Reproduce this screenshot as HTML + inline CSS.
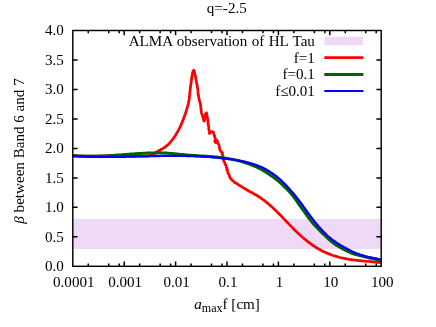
<!DOCTYPE html>
<html><head><meta charset="utf-8"><style>
html,body{margin:0;padding:0;background:#fff;}
svg{display:block;}
text{font-family:"Liberation Serif",serif;font-size:15.1px;fill:#000;}
</style></head><body>
<svg style="will-change:transform" width="436" height="327" viewBox="0 0 436 327">
<rect width="436" height="327" fill="#fff"/>
<rect x="72.8" y="218.9" width="308.4" height="30.1" fill="#eed9f7"/>
<rect x="324.3" y="36.8" width="38.8" height="8.4" fill="#eed9f7"/>
<g fill="none" stroke-linejoin="round" stroke-linecap="butt">
<path d="M72.8,156.1 L73.9,156.1 L75.0,156.1 L76.1,156.1 L77.2,156.1 L78.3,156.1 L79.5,156.1 L80.6,156.1 L81.7,156.1 L82.8,156.1 L83.9,156.1 L85.0,156.1 L86.1,156.1 L87.2,156.1 L88.3,156.1 L89.4,156.1 L90.5,156.1 L91.7,156.1 L92.8,156.1 L93.9,156.1 L95.0,156.1 L96.1,156.1 L97.2,156.1 L98.3,156.1 L99.4,156.1 L100.5,156.1 L101.6,156.1 L102.7,156.1 L103.9,156.1 L105.0,156.1 L106.1,156.1 L107.2,156.1 L108.3,156.1 L109.4,156.1 L110.5,156.1 L111.6,156.1 L112.7,156.1 L113.8,156.1 L114.9,156.1 L116.1,156.1 L117.2,156.1 L118.3,156.1 L119.4,156.1 L120.5,156.1 L121.6,156.1 L122.7,156.1 L123.8,156.1 L124.9,156.1 L126.0,156.1 L127.1,156.1 L128.3,156.1 L129.4,156.1 L130.5,156.1 L131.6,156.1 L132.7,156.1 L133.8,156.1 L134.9,156.1 L136.0,156.1 L137.1,156.1 L138.2,156.1 L139.3,156.1 L140.5,156.1 L141.6,156.1 L142.7,156.1 L143.8,156.1 L144.9,156.1 L146.0,156.1 L147.3,155.9 L148.7,155.8 L150.0,155.6 L151.5,155.1 L153.0,154.7 L154.0,154.1 L155.0,153.5 L156.2,152.5 L157.4,151.5 L159.2,150.5 L160.6,149.8 L162.0,149.0 L163.0,148.4 L164.1,147.7 L165.1,147.1 L165.9,146.4 L166.8,145.6 L167.7,144.9 L168.5,144.2 L169.3,143.3 L170.2,142.3 L171.0,141.4 L171.8,140.5 L172.5,139.6 L173.2,138.6 L173.8,137.7 L174.5,136.7 L175.2,135.8 L175.9,134.7 L176.5,133.6 L177.2,132.5 L177.8,131.4 L178.5,130.3 L179.0,129.2 L179.6,128.0 L180.1,126.9 L180.7,125.7 L181.2,124.6 L181.7,123.4 L182.2,122.2 L182.6,120.9 L183.1,119.7 L183.6,118.5 L184.0,117.3 L184.5,116.1 L184.9,114.9 L185.4,113.7 L185.8,112.5 L186.1,111.4 L186.4,110.3 L186.8,109.2 L187.1,108.2 L187.4,107.1 L187.7,106.0 L188.0,104.8 L188.3,103.6 L188.5,102.4 L188.8,101.2 L189.1,100.0 L189.2,98.9 L189.3,97.7 L189.5,96.6 L189.6,95.5 L189.7,94.3 L189.8,93.2 L189.9,92.0 L190.0,90.9 L190.2,89.8 L190.3,88.6 L190.4,87.5 L190.6,86.3 L190.7,85.2 L190.9,84.0 L191.0,82.9 L191.2,81.8 L191.4,80.6 L191.5,79.5 L191.7,78.3 L191.8,77.2 L192.0,76.0 L192.2,74.8 L192.5,73.6 L192.8,72.4 L193.0,71.2 L193.7,70.2 L194.4,71.2 L194.6,72.4 L194.8,73.5 L195.1,74.7 L195.3,75.8 L195.5,77.0 L195.7,78.2 L195.9,79.3 L196.2,80.5 L196.4,81.7 L196.6,82.8 L196.8,84.0 L197.1,85.2 L197.3,86.3 L197.5,87.5 L197.7,88.6 L197.8,89.8 L198.0,90.9 L198.0,92.1 L198.0,93.2 L198.3,94.3 L198.4,95.5 L198.6,96.6 L198.8,97.7 L199.2,98.8 L199.2,100.0 L199.6,101.2 L200.1,102.4 L200.4,103.7 L200.6,105.0 L200.8,106.2 L200.8,107.4 L200.8,108.6 L201.2,109.8 L201.2,111.0 L201.4,112.3 L201.7,113.6 L202.3,114.8 L202.7,116.0 L202.9,117.3 L203.3,118.6 L203.7,119.9 L204.0,121.2 L204.5,119.9 L205.0,118.5 L205.0,117.4 L205.3,116.3 L205.6,115.2 L205.5,113.9 L206.5,112.8 L206.7,114.4 L207.2,116.0 L207.3,117.2 L207.6,118.5 L207.9,119.7 L207.8,121.0 L208.1,122.2 L208.1,123.4 L208.1,124.7 L208.6,125.9 L208.8,127.2 L208.7,128.5 L208.9,129.8 L209.4,131.0 L209.5,132.3 L209.4,133.5 L210.3,132.7 L210.8,131.8 L212.2,131.6 L213.4,132.0 L213.8,133.6 L214.2,135.0 L214.7,136.1 L214.6,137.3 L215.3,138.3 L215.5,139.4 L214.7,141.1 L215.6,142.7 L216.3,141.3 L216.6,140.1 L217.5,141.1 L217.4,142.3 L217.8,143.3 L218.8,144.2 L219.1,145.6 L219.3,147.1 L219.7,148.4 L219.8,149.8 L220.5,150.8 L221.3,151.9 L222.6,152.9 L222.0,154.2 L222.8,155.3 L222.9,156.5 L223.0,157.7 L222.9,158.9 L223.8,159.9 L223.7,161.2 L224.5,162.2 L224.9,163.3 L225.3,164.5 L226.2,165.4 L226.1,166.6 L226.7,167.6 L227.2,168.6 L226.7,169.9 L227.7,170.7 L227.7,171.9 L227.9,173.0 L228.5,174.0 L229.2,174.9 L229.4,176.0 L229.9,177.2 L230.3,178.4 L231.5,179.1 L232.0,180.2 L233.0,180.7 L233.8,181.5 L234.7,182.6 L236.0,183.0 L237.2,183.7 L238.1,184.5 L239.0,185.3 L240.2,185.7 L241.2,186.4 L242.2,187.0 L243.2,187.6 L244.1,188.3 L245.2,188.8 L246.2,189.4 L247.2,189.9 L248.1,190.7 L249.2,191.2 L250.1,191.8 L251.1,192.4 L252.2,192.7 L253.2,193.4 L254.1,194.0 L255.2,194.6 L256.2,195.0 L257.2,195.7 L258.2,196.3 L259.2,196.9 L260.2,197.6 L261.2,198.3 L262.2,199.0 L263.2,199.8 L264.2,200.5 L265.2,201.3 L266.2,202.1 L267.2,202.9 L268.2,203.7 L269.2,204.5 L270.2,205.4 L271.2,206.3 L272.2,207.2 L273.2,208.1 L274.2,209.0 L275.2,210.0 L276.2,211.0 L277.2,212.0 L278.2,213.0 L279.2,214.0 L280.2,215.0 L281.2,216.0 L282.2,217.0 L283.2,218.1 L284.2,219.1 L285.2,220.2 L286.2,221.2 L287.2,222.3 L288.2,223.3 L289.2,224.4 L290.2,225.4 L291.2,226.4 L292.2,227.4 L293.2,228.5 L294.2,229.5 L295.2,230.5 L296.2,231.4 L297.2,232.4 L298.2,233.3 L299.2,234.3 L300.2,235.2 L301.2,236.1 L302.2,237.0 L303.2,237.8 L304.2,238.7 L305.2,239.5 L306.2,240.3 L307.2,241.1 L308.2,241.9 L309.2,242.6 L310.2,243.4 L311.2,244.1 L312.2,244.8 L313.2,245.5 L314.2,246.2 L315.2,246.9 L316.2,247.5 L317.2,248.1 L318.2,248.7 L319.2,249.3 L320.2,249.8 L321.2,250.4 L322.2,250.9 L323.2,251.4 L324.2,251.9 L325.2,252.3 L326.2,252.8 L327.2,253.2 L328.2,253.6 L329.2,254.0 L330.2,254.4 L331.2,254.8 L332.2,255.2 L333.2,255.5 L334.2,255.8 L335.2,256.1 L336.2,256.4 L337.2,256.7 L338.2,257.0 L339.2,257.3 L340.2,257.5 L341.2,257.8 L342.2,258.0 L343.2,258.2 L344.2,258.4 L345.2,258.6 L346.2,258.8 L347.2,259.0 L348.2,259.1 L349.2,259.3 L350.2,259.5 L351.2,259.6 L352.2,259.8 L353.2,259.9 L354.2,260.0 L355.2,260.1 L356.2,260.3 L357.2,260.4 L358.2,260.5 L359.2,260.6 L360.2,260.7 L361.2,260.8 L362.2,260.9 L363.2,261.0 L364.2,261.1 L365.2,261.2 L366.2,261.3 L367.2,261.3 L368.2,261.4 L369.2,261.5 L370.2,261.6 L371.2,261.7 L372.2,261.8 L373.2,261.9 L374.2,262.0 L375.2,262.1 L376.2,262.2 L377.2,262.3 L378.2,262.4 L379.2,262.5 L380.2,262.6 L381.0,262.7" stroke="#ff0000" stroke-width="2.75"/>
<path d="M72.8,155.4 L73.8,155.6 L74.8,155.7 L75.8,155.7 L76.8,155.8 L77.8,155.9 L78.8,156.0 L79.8,156.0 L80.8,156.1 L81.8,156.1 L82.8,156.2 L83.8,156.2 L84.8,156.3 L85.8,156.3 L86.8,156.3 L87.8,156.3 L88.8,156.3 L89.8,156.3 L90.8,156.3 L91.8,156.3 L92.8,156.3 L93.8,156.3 L94.8,156.3 L95.8,156.2 L96.8,156.2 L97.8,156.2 L98.8,156.1 L99.8,156.1 L100.8,156.1 L101.8,156.0 L102.8,156.0 L103.8,155.9 L104.8,155.9 L105.8,155.8 L106.8,155.8 L107.8,155.7 L108.8,155.7 L109.8,155.6 L110.8,155.5 L111.8,155.5 L112.8,155.4 L113.8,155.4 L114.8,155.3 L115.8,155.2 L116.8,155.1 L117.8,155.1 L118.8,155.0 L119.8,154.9 L120.8,154.9 L121.8,154.8 L122.8,154.7 L123.8,154.6 L124.8,154.6 L125.8,154.5 L126.8,154.4 L127.8,154.3 L128.8,154.2 L129.8,154.2 L130.8,154.1 L131.8,154.0 L132.8,153.9 L133.8,153.9 L134.8,153.8 L135.8,153.7 L136.8,153.7 L137.8,153.6 L138.8,153.5 L139.8,153.5 L140.8,153.4 L141.8,153.4 L142.8,153.3 L143.8,153.3 L144.8,153.2 L145.8,153.2 L146.8,153.1 L147.8,153.1 L148.8,153.1 L149.8,153.0 L150.8,153.0 L151.8,152.9 L152.8,152.9 L153.8,152.9 L154.8,152.8 L155.8,152.8 L156.8,152.8 L157.8,152.8 L158.8,152.8 L159.8,152.8 L160.8,152.8 L161.8,152.9 L162.8,152.9 L163.8,153.0 L164.8,153.0 L165.8,153.1 L166.8,153.1 L167.8,153.2 L168.8,153.3 L169.8,153.4 L170.8,153.4 L171.8,153.5 L172.8,153.6 L173.8,153.7 L174.8,153.8 L175.8,153.9 L176.8,154.0 L177.8,154.1 L178.8,154.2 L179.8,154.3 L180.8,154.4 L181.8,154.5 L182.8,154.6 L183.8,154.7 L184.8,154.8 L185.8,154.9 L186.8,155.0 L187.8,155.1 L188.8,155.2 L189.8,155.2 L190.8,155.3 L191.8,155.4 L192.8,155.4 L193.8,155.5 L194.8,155.6 L195.8,155.6 L196.8,155.7 L197.8,155.8 L198.8,155.8 L199.8,155.9 L200.8,155.9 L201.8,156.0 L202.8,156.1 L203.8,156.1 L204.8,156.2 L205.8,156.2 L206.8,156.3 L207.8,156.4 L208.8,156.4 L209.8,156.5 L210.8,156.6 L211.8,156.7 L212.8,156.7 L213.8,156.8 L214.8,156.9 L215.8,157.0 L216.8,157.1 L217.8,157.2 L218.8,157.3 L219.8,157.4 L220.8,157.6 L221.8,157.7 L222.8,157.8 L223.8,157.9 L224.8,158.1 L225.8,158.2 L226.8,158.4 L227.8,158.5 L228.8,158.7 L229.8,158.9 L230.8,159.1 L231.8,159.3 L232.8,159.5 L233.8,159.7 L234.8,159.9 L235.8,160.1 L236.8,160.3 L237.8,160.6 L238.8,160.8 L239.8,161.1 L240.8,161.4 L241.8,161.6 L242.8,161.9 L243.8,162.2 L244.8,162.5 L245.8,162.9 L246.8,163.2 L247.8,163.5 L248.8,163.9 L249.8,164.3 L250.8,164.6 L251.8,165.0 L252.8,165.4 L253.8,165.9 L254.8,166.3 L255.8,166.7 L256.8,167.2 L257.8,167.6 L258.8,168.1 L259.8,168.7 L260.8,169.2 L261.8,169.8 L262.8,170.3 L263.8,170.9 L264.8,171.5 L265.8,172.1 L266.8,172.7 L267.8,173.4 L268.8,174.0 L269.8,174.7 L270.8,175.4 L271.8,176.1 L272.8,176.8 L273.8,177.5 L274.8,178.3 L275.8,179.0 L276.8,179.8 L277.8,180.7 L278.8,181.5 L279.8,182.4 L280.8,183.2 L281.8,184.2 L282.8,185.1 L283.8,186.1 L284.8,187.1 L285.8,188.1 L286.8,189.0 L287.8,190.1 L288.8,191.1 L289.8,192.2 L290.8,193.4 L291.8,194.5 L292.8,195.8 L293.8,197.1 L294.8,198.4 L295.8,199.8 L296.8,201.2 L297.8,202.7 L298.8,204.1 L299.8,205.6 L300.8,207.0 L301.8,208.4 L302.8,209.7 L303.8,211.1 L304.8,212.4 L305.8,213.9 L306.8,215.3 L307.8,216.7 L308.8,218.0 L309.8,219.3 L310.8,220.6 L311.8,221.9 L312.8,223.1 L313.8,224.3 L314.8,225.4 L315.8,226.4 L316.8,227.5 L317.8,228.4 L318.8,229.5 L319.8,230.6 L320.8,231.6 L321.8,232.6 L322.8,233.6 L323.8,234.5 L324.8,235.5 L325.8,236.5 L326.8,237.4 L327.8,238.4 L328.8,239.3 L329.8,240.1 L330.8,241.0 L331.8,241.8 L332.8,242.6 L333.8,243.3 L334.8,244.0 L335.8,244.7 L336.8,245.4 L337.8,246.0 L338.8,246.7 L339.8,247.2 L340.8,247.8 L341.8,248.4 L342.8,248.9 L343.8,249.5 L344.8,250.0 L345.8,250.5 L346.8,251.0 L347.8,251.4 L348.8,251.9 L349.8,252.3 L350.8,252.8 L351.8,253.2 L352.8,253.5 L353.8,253.9 L354.8,254.2 L355.8,254.5 L356.8,254.8 L357.8,255.0 L358.8,255.3 L359.8,255.6 L360.8,255.9 L361.8,256.1 L362.8,256.4 L363.8,256.6 L364.8,256.8 L365.8,257.1 L366.8,257.3 L367.8,257.5 L368.8,257.8 L369.8,258.0 L370.8,258.2 L371.8,258.4 L372.8,258.7 L373.8,258.9 L374.8,259.1 L375.8,259.4 L376.8,259.6 L377.8,259.8 L378.8,260.1 L379.8,260.3 L380.8,260.6" stroke="#006400" stroke-width="3.0"/>
<path d="M72.8,155.9 L73.8,155.9 L74.8,156.0 L75.8,156.0 L76.8,156.1 L77.8,156.2 L78.8,156.2 L79.8,156.3 L80.8,156.3 L81.8,156.4 L82.8,156.4 L83.8,156.4 L84.8,156.5 L85.8,156.5 L86.8,156.6 L87.8,156.6 L88.8,156.6 L89.8,156.7 L90.8,156.7 L91.8,156.7 L92.8,156.7 L93.8,156.8 L94.8,156.8 L95.8,156.8 L96.8,156.8 L97.8,156.8 L98.8,156.8 L99.8,156.8 L100.8,156.9 L101.8,156.9 L102.8,156.9 L103.8,156.9 L104.8,156.9 L105.8,156.9 L106.8,156.9 L107.8,156.9 L108.8,156.9 L109.8,156.9 L110.8,156.9 L111.8,156.9 L112.8,156.8 L113.8,156.8 L114.8,156.8 L115.8,156.8 L116.8,156.8 L117.8,156.8 L118.8,156.8 L119.8,156.8 L120.8,156.8 L121.8,156.7 L122.8,156.7 L123.8,156.7 L124.8,156.7 L125.8,156.7 L126.8,156.6 L127.8,156.6 L128.8,156.6 L129.8,156.6 L130.8,156.6 L131.8,156.5 L132.8,156.5 L133.8,156.5 L134.8,156.5 L135.8,156.5 L136.8,156.4 L137.8,156.4 L138.8,156.4 L139.8,156.4 L140.8,156.3 L141.8,156.3 L142.8,156.3 L143.8,156.3 L144.8,156.3 L145.8,156.2 L146.8,156.2 L147.8,156.2 L148.8,156.2 L149.8,156.1 L150.8,156.1 L151.8,156.1 L152.8,156.1 L153.8,156.1 L154.8,156.0 L155.8,156.0 L156.8,156.0 L157.8,156.0 L158.8,156.0 L159.8,156.0 L160.8,155.9 L161.8,155.9 L162.8,155.9 L163.8,155.9 L164.8,155.9 L165.8,155.9 L166.8,155.9 L167.8,155.9 L168.8,155.9 L169.8,155.9 L170.8,155.9 L171.8,155.8 L172.8,155.8 L173.8,155.8 L174.8,155.8 L175.8,155.8 L176.8,155.8 L177.8,155.9 L178.8,155.9 L179.8,155.9 L180.8,155.9 L181.8,155.9 L182.8,155.9 L183.8,155.9 L184.8,155.9 L185.8,155.9 L186.8,156.0 L187.8,156.0 L188.8,156.0 L189.8,156.0 L190.8,156.1 L191.8,156.1 L192.8,156.1 L193.8,156.2 L194.8,156.2 L195.8,156.2 L196.8,156.3 L197.8,156.3 L198.8,156.4 L199.8,156.4 L200.8,156.5 L201.8,156.5 L202.8,156.6 L203.8,156.6 L204.8,156.7 L205.8,156.7 L206.8,156.8 L207.8,156.9 L208.8,156.9 L209.8,157.0 L210.8,157.1 L211.8,157.2 L212.8,157.3 L213.8,157.3 L214.8,157.4 L215.8,157.5 L216.8,157.6 L217.8,157.7 L218.8,157.8 L219.8,157.9 L220.8,158.0 L221.8,158.1 L222.8,158.2 L223.8,158.3 L224.8,158.5 L225.8,158.6 L226.8,158.7 L227.8,158.8 L228.8,159.0 L229.8,159.1 L230.8,159.2 L231.8,159.4 L232.8,159.5 L233.8,159.7 L234.8,159.8 L235.8,160.0 L236.8,160.2 L237.8,160.3 L238.8,160.5 L239.8,160.7 L240.8,160.9 L241.8,161.1 L242.8,161.3 L243.8,161.5 L244.8,161.8 L245.8,162.0 L246.8,162.3 L247.8,162.5 L248.8,162.8 L249.8,163.1 L250.8,163.4 L251.8,163.7 L252.8,164.0 L253.8,164.3 L254.8,164.6 L255.8,165.0 L256.8,165.3 L257.8,165.7 L258.8,166.1 L259.8,166.5 L260.8,166.9 L261.8,167.4 L262.8,167.9 L263.8,168.4 L264.8,168.9 L265.8,169.4 L266.8,169.9 L267.8,170.5 L268.8,171.1 L269.8,171.7 L270.8,172.4 L271.8,173.0 L272.8,173.7 L273.8,174.4 L274.8,175.2 L275.8,175.9 L276.8,176.7 L277.8,177.5 L278.8,178.4 L279.8,179.2 L280.8,180.1 L281.8,181.1 L282.8,182.0 L283.8,183.0 L284.8,184.0 L285.8,185.0 L286.8,186.1 L287.8,187.2 L288.8,188.3 L289.8,189.4 L290.8,190.6 L291.8,191.7 L292.8,192.8 L293.8,194.0 L294.8,195.2 L295.8,196.5 L296.8,197.7 L297.8,199.0 L298.8,200.2 L299.8,201.6 L300.8,202.9 L301.8,204.3 L302.8,205.7 L303.8,207.1 L304.8,208.5 L305.8,209.9 L306.8,211.3 L307.8,212.7 L308.8,214.0 L309.8,215.4 L310.8,216.7 L311.8,218.0 L312.8,219.3 L313.8,220.6 L314.8,221.9 L315.8,223.1 L316.8,224.4 L317.8,225.5 L318.8,226.7 L319.8,227.8 L320.8,228.9 L321.8,230.0 L322.8,231.1 L323.8,232.1 L324.8,233.1 L325.8,234.1 L326.8,235.1 L327.8,236.0 L328.8,236.9 L329.8,237.7 L330.8,238.5 L331.8,239.3 L332.8,240.1 L333.8,240.8 L334.8,241.5 L335.8,242.2 L336.8,242.9 L337.8,243.6 L338.8,244.2 L339.8,244.8 L340.8,245.4 L341.8,246.0 L342.8,246.5 L343.8,247.1 L344.8,247.6 L345.8,248.1 L346.8,248.7 L347.8,249.2 L348.8,249.8 L349.8,250.3 L350.8,250.8 L351.8,251.3 L352.8,251.7 L353.8,252.2 L354.8,252.7 L355.8,253.1 L356.8,253.4 L357.8,253.8 L358.8,254.2 L359.8,254.5 L360.8,254.9 L361.8,255.2 L362.8,255.5 L363.8,255.8 L364.8,256.1 L365.8,256.4 L366.8,256.6 L367.8,256.9 L368.8,257.1 L369.8,257.3 L370.8,257.5 L371.8,257.7 L372.8,257.9 L373.8,258.1 L374.8,258.3 L375.8,258.5 L376.8,258.7 L377.8,258.9 L378.8,259.1 L379.8,259.3 L380.8,259.4" stroke="#0000ff" stroke-width="2.35"/>
<path d="M324.3,57.6 H363.4" stroke="#ff0000" stroke-width="2.6"/>
<path d="M324.3,74.5 H363.4" stroke="#006400" stroke-width="3.0"/>
<path d="M324.3,91 H363.4" stroke="#0000ff" stroke-width="2.1"/>
</g>
<path d="M88.27,266.3 v-2.7 M88.27,30.5 v2.7 M108.73,266.3 v-2.7 M108.73,30.5 v2.7 M119.22,266.3 v-2.7 M119.22,30.5 v2.7 M124.20,266.3 v-4.8 M124.20,30.5 v4.8 M139.67,266.3 v-2.7 M139.67,30.5 v2.7 M160.13,266.3 v-2.7 M160.13,30.5 v2.7 M170.62,266.3 v-2.7 M170.62,30.5 v2.7 M175.60,266.3 v-4.8 M175.60,30.5 v4.8 M191.07,266.3 v-2.7 M191.07,30.5 v2.7 M211.53,266.3 v-2.7 M211.53,30.5 v2.7 M222.02,266.3 v-2.7 M222.02,30.5 v2.7 M227.00,266.3 v-4.8 M227.00,30.5 v4.8 M242.47,266.3 v-2.7 M242.47,30.5 v2.7 M262.93,266.3 v-2.7 M262.93,30.5 v2.7 M273.42,266.3 v-2.7 M273.42,30.5 v2.7 M278.40,266.3 v-4.8 M278.40,30.5 v4.8 M293.87,266.3 v-2.7 M293.87,30.5 v2.7 M314.33,266.3 v-2.7 M314.33,30.5 v2.7 M324.82,266.3 v-2.7 M324.82,30.5 v2.7 M329.80,266.3 v-4.8 M329.80,30.5 v4.8 M345.27,266.3 v-2.7 M345.27,30.5 v2.7 M365.73,266.3 v-2.7 M365.73,30.5 v2.7 M376.22,266.3 v-2.7 M376.22,30.5 v2.7 M72.8,236.83 h4.8 M381.2,236.83 h-4.8 M72.8,207.35 h4.8 M381.2,207.35 h-4.8 M72.8,177.88 h4.8 M381.2,177.88 h-4.8 M72.8,148.40 h4.8 M381.2,148.40 h-4.8 M72.8,118.93 h4.8 M381.2,118.93 h-4.8 M72.8,89.45 h4.8 M381.2,89.45 h-4.8 M72.8,59.97 h4.8 M381.2,59.97 h-4.8 " stroke="#000" stroke-width="1.5" fill="none"/>
<rect x="72.8" y="30.5" width="308.4" height="235.8" fill="none" stroke="#000" stroke-width="1.45"/>
<text x="73.80" y="286.5" text-anchor="middle">0.0001</text><text x="125.20" y="286.5" text-anchor="middle">0.001</text><text x="176.60" y="286.5" text-anchor="middle">0.01</text><text x="228.00" y="286.5" text-anchor="middle">0.1</text><text x="279.40" y="286.5" text-anchor="middle">1</text><text x="330.80" y="286.5" text-anchor="middle">10</text><text x="382.20" y="286.5" text-anchor="middle">100</text>
<text x="63.8" y="271.25" text-anchor="end">0.0</text><text x="63.8" y="241.78" text-anchor="end">0.5</text><text x="63.8" y="212.30" text-anchor="end">1.0</text><text x="63.8" y="182.82" text-anchor="end">1.5</text><text x="63.8" y="153.35" text-anchor="end">2.0</text><text x="63.8" y="123.88" text-anchor="end">2.5</text><text x="63.8" y="94.40" text-anchor="end">3.0</text><text x="63.8" y="64.92" text-anchor="end">3.5</text><text x="63.8" y="35.45" text-anchor="end">4.0</text>
<text x="226.8" y="13.3" text-anchor="middle">q=-2.5</text>
<text x="314.9" y="46.2" text-anchor="end" style="word-spacing:0.7px">ALMA observation of HL Tau</text>
<text x="314.9" y="62.7" text-anchor="end">f=1</text>
<text x="314.9" y="79.4" text-anchor="end">f=0.1</text>
<text x="314.9" y="96.1" text-anchor="end">f≤0.01</text>
<text x="194.2" y="308.6"><tspan font-style="italic">a</tspan><tspan font-size="12.1px" dy="3.5">max</tspan><tspan dy="-3.5">f [cm]</tspan></text>
<text transform="translate(24.2,151) rotate(-90)" text-anchor="middle"><tspan font-style="italic">β</tspan> between Band 6 and 7</text>
</svg>
</body></html>
